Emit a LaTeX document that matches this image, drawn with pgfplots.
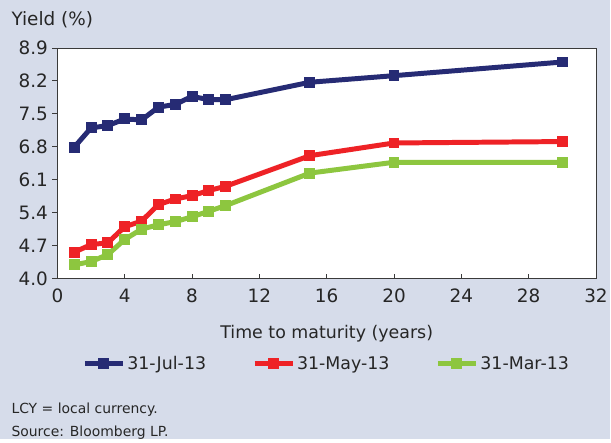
\documentclass[border=0pt]{standalone}
\usepackage{pgfplots}
\pgfplotsset{compat=1.18}
\usepackage{fontspec}
\setmainfont{DejaVu Sans}
\definecolor{bgc}{HTML}{D6DCEA}
\definecolor{cblue}{HTML}{262B74}
\definecolor{cred}{HTML}{EE2226}
\definecolor{cgreen}{HTML}{8DC63F}
\definecolor{axc}{HTML}{3A3A3A}
\begin{document}
\begin{tikzpicture}[x=1bp,y=1bp]
\fill[bgc] (0,0) rectangle (611,440);
\node[anchor=west,font=\fontsize{18.5}{20}\selectfont,text=black!85] at (8,420) {Yield (\%)};
\node[anchor=west,font=\fontsize{14}{16}\selectfont,text=black!85] at (8,30) {LCY = local currency.};
\node[anchor=west,font=\fontsize{14}{16}\selectfont,text=black!85] at (8,7) {Source: Bloomberg LP.};
\begin{axis}[
  at={(57.5bp,161bp)}, anchor=origin,
  scale only axis, width=539.5bp, height=231bp,
  xmin=0, xmax=32, ymin=4.0, ymax=8.9,
  xtick={0,4,...,32},
  ytick={4.0,4.7,5.4,6.1,6.8,7.5,8.2,8.9},
  axis background/.style={fill=white},
  axis line style={axc, line width=0.8pt},
  tick style={axc, line width=0.8pt},
  major tick length=5bp,
  xtick align=inside, ytick align=outside,
  xtick pos=bottom, ytick pos=left,
  /pgf/number format/assume math mode=true,
  yticklabel style={/pgf/number format/fixed, /pgf/number format/fixed zerofill, /pgf/number format/precision=1, xshift=-1bp},
  ticklabel style={font=\fontsize{18.5}{20}\selectfont, text=black!85},
  xticklabel style={yshift=-7bp},
  xlabel={Time to maturity (years)},
  xlabel style={font=\fontsize{17.5}{20}\selectfont, text=black!85, yshift=-16bp},
  legend columns=3,
  legend style={at={(0.5,-0.37)}, anchor=center, draw=none, fill=none,
    font=\fontsize{17.5}{20}\selectfont, text=black!85,
    nodes={inner xsep=2bp},
    /tikz/every even column/.append style={column sep=44bp},
    /tikz/every odd column/.append style={column sep=0bp}},
  legend cell align=left,
  legend image code/.code={
    \draw[#1, mark repeat=2, mark phase=2] plot coordinates {(0bp,0bp) (19bp,0bp) (38bp,0bp)};
  },
]
\addplot[cblue, line width=5pt, mark=square*, mark size=5pt, mark options={solid, fill=cblue, draw=cblue, line width=0pt}] coordinates {
 (1,6.79) (2,7.20) (3,7.25) (4,7.39) (5,7.37) (6,7.64) (7,7.70) (8,7.87) (9,7.80) (10,7.80) (15,8.17) (20,8.31) (30,8.60)};
\addlegendentry{31-Jul-13}
\addplot[cred, line width=5pt, mark=square*, mark size=5pt, mark options={solid, fill=cred, draw=cred, line width=0pt}] coordinates {
 (1,4.56) (2,4.72) (3,4.76) (4,5.10) (5,5.22) (6,5.57) (7,5.69) (8,5.76) (9,5.87) (10,5.96) (15,6.61) (20,6.88) (30,6.91)};
\addlegendentry{31-May-13}
\addplot[cgreen, line width=5pt, mark=square*, mark size=5pt, mark options={solid, fill=cgreen, draw=cgreen, line width=0pt}] coordinates {
 (1,4.29) (2,4.36) (3,4.51) (4,4.83) (5,5.05) (6,5.14) (7,5.21) (8,5.31) (9,5.43) (10,5.55) (15,6.24) (20,6.47) (30,6.47)};
\addlegendentry{31-Mar-13}
\end{axis}
\end{tikzpicture}
\end{document}
